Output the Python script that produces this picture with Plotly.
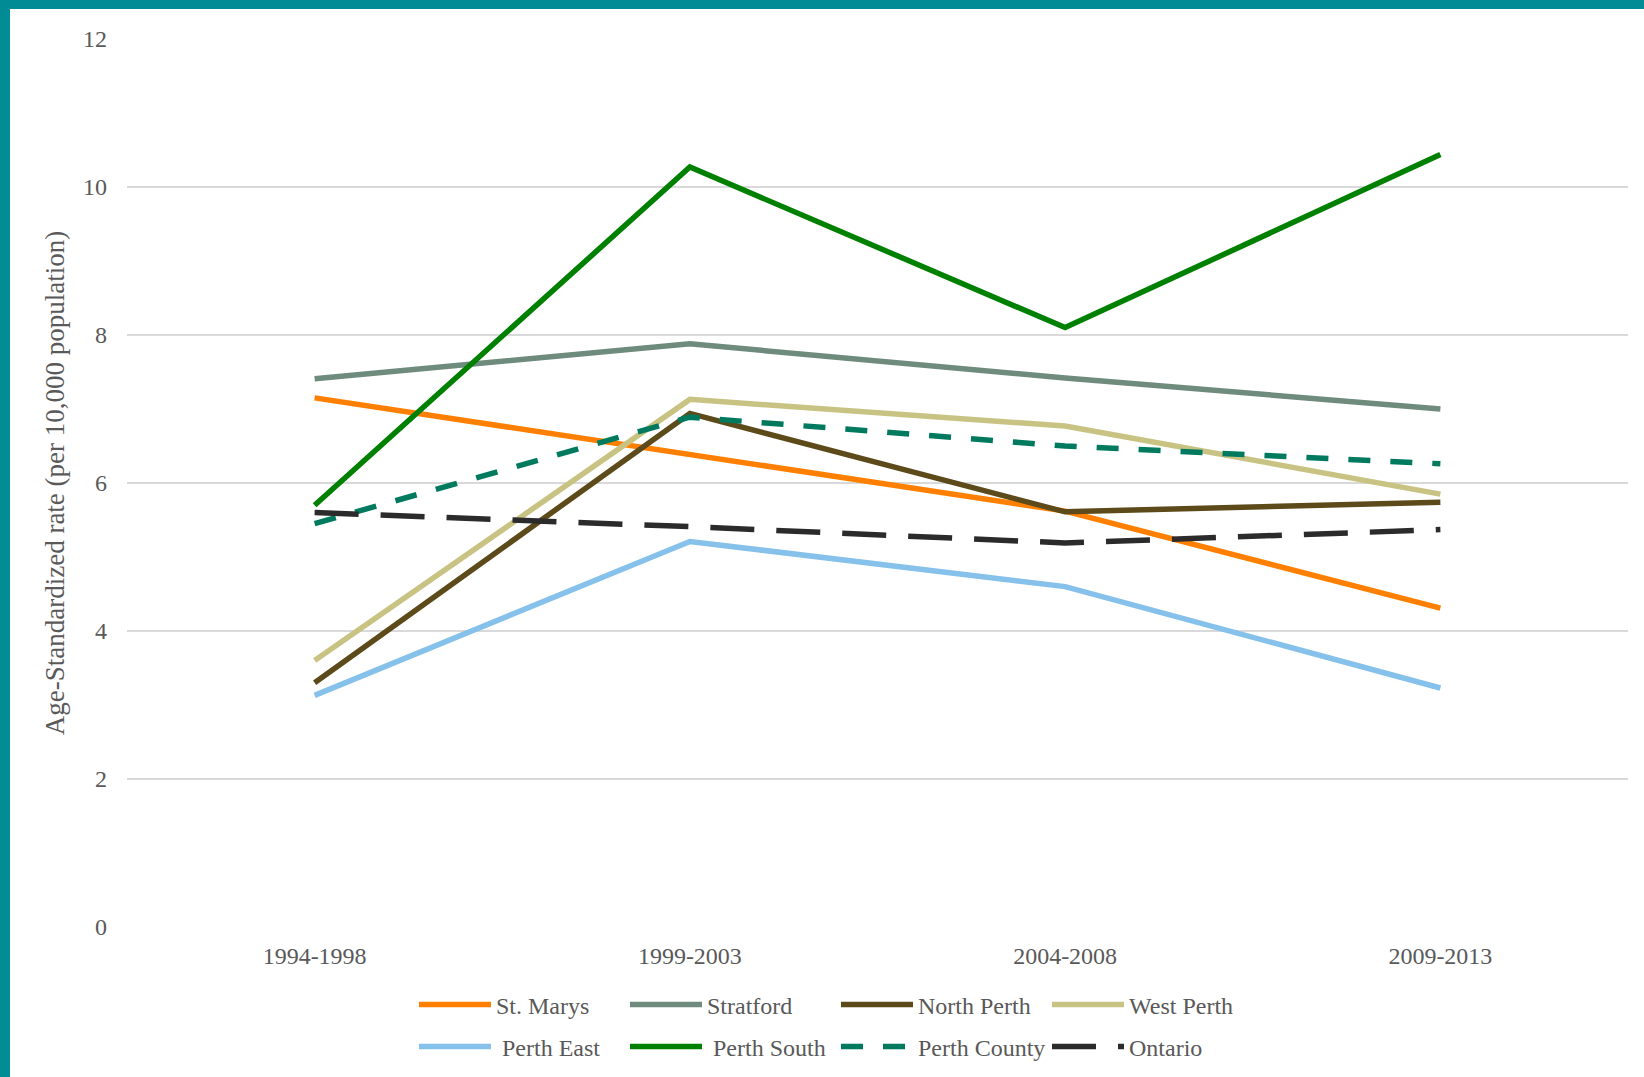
import plotly.graph_objects as go

periods = ["1994-1998", "1999-2003", "2004-2008", "2009-2013"]

st_marys = [7.15, 6.38, 5.62, 4.31]
stratford = [7.41, 7.88, 7.42, 7.00]
north_perth = [3.30, 6.94, 5.61, 5.74]
west_perth = [3.60, 7.13, 6.77, 5.85]
perth_east = [3.13, 5.21, 4.60, 3.23]
perth_south = [5.70, 10.27, 8.10, 10.44]
perth_county = [5.45, 6.89, 6.50, 6.26]
ontario = [5.60, 5.41, 5.19, 5.37]

series = [
    ("St. Marys", st_marys, "#FF8000", "solid", "legend"),
    ("Stratford", stratford, "#6E8B7D", "solid", "legend"),
    ("North Perth", north_perth, "#5C4A1A", "solid", "legend"),
    ("West Perth", west_perth, "#C9C383", "solid", "legend"),
    (" Perth East", perth_east, "#85C1EA", "solid", "legend2"),
    (" Perth South", perth_south, "#008000", "solid", "legend2"),
    ("Perth County", perth_county, "#007A5E", "22px,20px", "legend2"),
    ("Ontario", ontario, "#2B2B2B", "44px,22px", "legend2"),
]

fig = go.Figure()
for name, vals, color, dash, leg in series:
    fig.add_trace(go.Scatter(
        x=periods, y=vals, name=name, mode="lines", legend=leg,
        line=dict(color=color, width=5.5, dash=dash),
    ))

serif = "Liberation Serif, Times New Roman, serif"
L, R, T, B = 127, 16, 39, 150
W, H = 1644, 1077
pw, ph = W - L - R, H - T - B

ITEMW = 72
ENTRY = 210
leg_x = 414 / W

legend_common = dict(
    orientation="h", x=leg_x, xanchor="left", yanchor="middle",
    xref="container", yref="container",
    entrywidth=ENTRY - ITEMW - 14, entrywidthmode="pixels",
    itemwidth=ITEMW, font=dict(size=24, color="#595959", family=serif),
    bgcolor="rgba(0,0,0,0)",
)

fig.update_layout(
    width=W, height=H,
    margin=dict(l=L, r=R, t=T, b=B, autoexpand=False),
    plot_bgcolor="white", paper_bgcolor="white",
    font=dict(family=serif, color="#595959"),
    showlegend=True,
    legend=dict(y=1 - 1005 / H, **legend_common),
    legend2=dict(y=1 - 1047 / H, **legend_common),
    xaxis=dict(
        range=[-0.5, 3.5], automargin=False,
        showgrid=False, showline=False, zeroline=False,
        tickfont=dict(size=24, color="#595959"),
        ticklabelstandoff=12,
    ),
    yaxis=dict(
        range=[0, 12], tickvals=[0, 2, 4, 6, 8, 10, 12], automargin=False,
        showgrid=True, gridcolor="#D9D9D9", gridwidth=1.5,
        zeroline=False, showline=False,
        tickfont=dict(size=24, color="#595959"),
        ticklabelstandoff=19,
        title=dict(text="Age-Standardized rate (per 10,000 population)",
                   font=dict(size=27, color="#595959"), standoff=10),
    ),
)

# teal frame on top and left
fig.add_shape(type="rect", xref="paper", yref="paper",
              x0=-L / pw, x1=(W - L) / pw, y0=1 + (T - 9) / ph, y1=1 + T / ph,
              fillcolor="#008B95", line_width=0, layer="above")
fig.add_shape(type="rect", xref="paper", yref="paper",
              x0=-L / pw, x1=-(L - 10) / pw, y0=-B / ph, y1=1 + T / ph,
              fillcolor="#008B95", line_width=0, layer="above")

fig.write_html("out.html", config={"displayModeBar": False},
               post_script="document.body.style.margin='0px';")
